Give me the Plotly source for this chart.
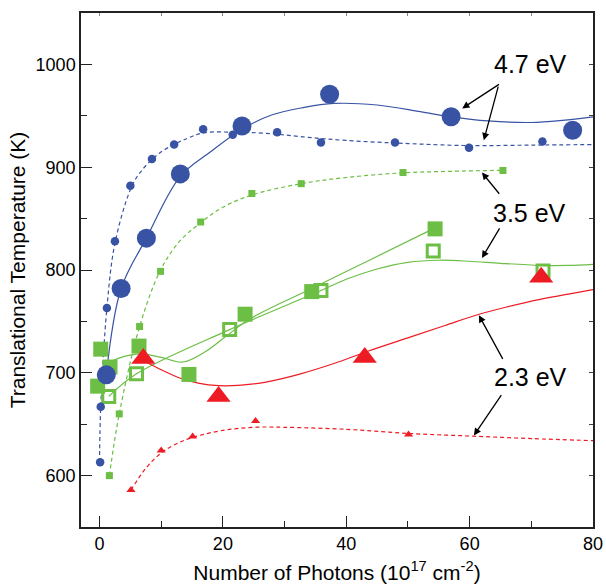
import plotly.graph_objects as go

# ---------------- data ----------------
# 4.7 eV
blue_big_x = [1.1, 3.5, 7.6, 13.1, 23.1, 37.3, 57.0, 76.7]
blue_big_y = [698, 782, 831, 893.5, 940, 971, 949, 936]
blue_small_x = [0.1, 0.2, 1.2, 2.5, 5.0, 8.5, 12.1, 16.8, 21.6, 28.8, 35.9, 47.9, 59.9, 71.8]
blue_small_y = [613, 667, 763, 828, 882, 908, 922, 937, 931.5, 934, 924, 924, 919, 925]
blue_fit_x = [1.1, 3.5, 7.6, 13.1, 18, 23.1, 28, 33, 38, 45, 52, 57, 63, 70, 75, 80]
blue_fit_y = [698, 782, 831, 891, 915, 937, 951, 958, 962, 960.5, 954, 949, 945, 943.5, 945.5, 949]
blue_dfit_x = [0.0, 0.2, 1.2, 2.5, 5.0, 6.6, 9.8, 14.2, 17, 22, 27, 33, 40, 50, 60, 70, 80]
blue_dfit_y = [613, 667, 763, 826, 878, 895, 914, 928, 933.5, 934, 933, 929.5, 926, 923, 921, 921.5, 922]

# 3.5 eV
green_big_x = [0.2, -0.3, 1.7, 6.4, 14.5, 23.6, 34.4, 54.4]
green_big_y = [723, 687, 705.6, 726, 698.4, 757, 779, 840]
green_open_x = [1.5, 6.0, 21.1, 35.9, 54.1, 71.9]
green_open_y = [677, 699, 742, 780, 818.5, 799]
green_small_x = [1.6, 3.2, 6.5, 9.9, 16.4, 24.7, 32.7, 49.2, 65.4]
green_small_y = [600, 660, 745, 798.7, 846.7, 874.4, 884, 894.8, 896.8]
green_fit_x = [1.5, 4, 6.6, 10, 13.5, 17, 20.4, 24.4, 34.4, 44.4, 54.4]
green_fit_y = [710, 716, 718.5, 715, 710.5, 720, 735, 752.5, 782, 811.5, 841]
green_ofit_x = [1.5, 6.0, 21.1, 35.9, 40, 45, 50, 55, 60, 65, 71.5, 76, 80]
green_ofit_y = [677, 699, 742, 780, 791, 801, 807.5, 809.5, 808.5, 806.5, 804.5, 804.5, 805.5]
green_dfit_x = [1.6, 3.2, 6.5, 9.9, 13, 16.4, 20, 24.7, 32.7, 40, 49.2, 57, 65.4]
green_dfit_y = [600, 660, 745, 800, 828, 846, 861, 873, 884, 890, 894.5, 896, 897]

# 2.3 eV
red_big_x = [7.1, 19.3, 43.0, 71.6]
red_big_y = [714, 677, 715, 793]
red_small_x = [5.1, 10.0, 15.1, 25.3, 50.1]
red_small_y = [586, 624.4, 638, 653, 640]
red_fit_x = [7.1, 10, 13, 16, 19.3, 23, 27, 32.6, 38, 43.5, 50, 56, 61, 66, 71, 76, 80]
red_fit_y = [712, 703, 695, 690, 687.5, 688, 691, 699, 709, 721, 734, 746, 756, 764, 771, 776.5, 781]
red_dfit_x = [5.1, 7.5, 10, 12.5, 15, 20, 25, 30, 40, 50, 60, 70, 80]
red_dfit_y = [586, 607, 622, 631, 637, 644, 647, 647, 645, 641, 638.5, 636, 634]

labels = ["4.7 eV", "3.5 eV", "2.3 eV"]
label_x = [69.8, 69.7, 69.8]
label_y = [1000, 855, 696]
# arrows: (tail x, tail y, head x, head y)
arrow_tail_x = [65.0, 64.7, 65.0, 65.0, 65.5, 65.3]
arrow_tail_y = [981.5, 979.8, 872.7, 841.9, 712.1, 679.7]
arrow_head_x = [58.8, 62.3, 62.0, 62.0, 61.5, 60.7]
arrow_head_y = [957.2, 926.3, 894.8, 811.7, 756.0, 639.0]

x_title = "Number of Photons (10<sup>17</sup> cm<sup>-2</sup>)"
y_title = "Translational Temperature (K)"

BLUE = "#3953a4"
GREEN = "#6cbe45"
RED = "#ed1c24"
FONT = "Liberation Sans, Arial, Helvetica, sans-serif"

fig = go.Figure()

def curve(x, y, color, dash=None):
    fig.add_trace(go.Scatter(x=x, y=y, mode="lines", hoverinfo="skip",
                             line=dict(color=color, width=1.2, shape="spline", smoothing=1.0,
                                       dash=dash if dash else "solid")))

curve(blue_fit_x, blue_fit_y, BLUE)
curve(blue_dfit_x, blue_dfit_y, BLUE, "4px,3px")
curve(green_fit_x, green_fit_y, GREEN)
curve(green_ofit_x, green_ofit_y, GREEN)
curve(green_dfit_x, green_dfit_y, GREEN, "4px,3px")
curve(red_fit_x, red_fit_y, RED)
curve(red_dfit_x, red_dfit_y, RED, "4px,3px")

def pts(x, y, color, symbol, size, lw=0):
    fig.add_trace(go.Scatter(x=x, y=y, mode="markers",
                             marker=dict(color=color, symbol=symbol, size=size,
                                         line=dict(width=lw, color=color))))

pts(green_small_x, green_small_y, GREEN, "square", 7)
pts(green_big_x, green_big_y, GREEN, "square", 15)
pts(green_open_x, green_open_y, GREEN, "square-open", 12, 3)
pts(red_small_x, red_small_y, RED, "triangle-up", 8)
pts(red_big_x, red_big_y, RED, "triangle-up", 21)
pts(blue_small_x, blue_small_y, BLUE, "circle", 8.5)
pts(blue_big_x, blue_big_y, BLUE, "circle", 19)

# dummy traces for the top/right mirror axes
fig.add_trace(go.Scatter(x=[], y=[], xaxis="x2", yaxis="y2", showlegend=False))

annotations = []
for t, xx, yy in zip(labels, label_x, label_y):
    annotations.append(dict(x=xx, y=yy, xref="x", yref="y", text=t, showarrow=False,
                            font=dict(family=FONT, size=25, color="black")))
for tx, ty, hx, hy in zip(arrow_tail_x, arrow_tail_y, arrow_head_x, arrow_head_y):
    annotations.append(dict(x=hx, y=hy, ax=tx, ay=ty, xref="x", yref="y", axref="x", ayref="y",
                            text="", showarrow=True, arrowhead=2, arrowsize=1.1, arrowwidth=1.3,
                            arrowcolor="black", standoff=0, startstandoff=0))

axis_common = dict(showline=True, linecolor="#222222", linewidth=1.5, showgrid=False, zeroline=False,
                   ticks="inside", ticklen=11, tickwidth=1.2, tickcolor="#222222", automargin=False,
                   tickfont=dict(family=FONT, size=18, color="black"))

fig.update_layout(
    width=606, height=584,
    margin=dict(l=81, r=13, t=13, b=57),
    paper_bgcolor="white", plot_bgcolor="white",
    showlegend=False,
    xaxis=dict(range=[-3, 80], dtick=20, tick0=0, mirror=True,
               minor=dict(ticks="inside", ticklen=6, dtick=10, tick0=0, tickcolor="#222222", tickwidth=1.2),
               title=dict(text=x_title, font=dict(family=FONT, size=21, color="black"), standoff=22),
               **axis_common),
    yaxis=dict(range=[550, 1050], dtick=100, tick0=0, mirror=True,
               minor=dict(ticks="inside", ticklen=6, dtick=50, tick0=0, tickcolor="#222222", tickwidth=1.2),
               title=dict(text=y_title, font=dict(family=FONT, size=21, color="black"), standoff=4),
               **axis_common),
    xaxis2=dict(range=[-3, 80], overlaying="x", side="top", showticklabels=False, showgrid=False,
                zeroline=False, ticks="inside", ticklen=3, dtick=10, tick0=0, tickcolor="#888888",
                showline=False, anchor="y", automargin=False),
    yaxis2=dict(range=[550, 1050], overlaying="y", side="right", showticklabels=False, showgrid=False,
                zeroline=False, ticks="inside", ticklen=4, dtick=50, tick0=0, tickcolor="#444444",
                showline=False, anchor="x", automargin=False),
    annotations=annotations,
)

fig.write_html("out.html")
